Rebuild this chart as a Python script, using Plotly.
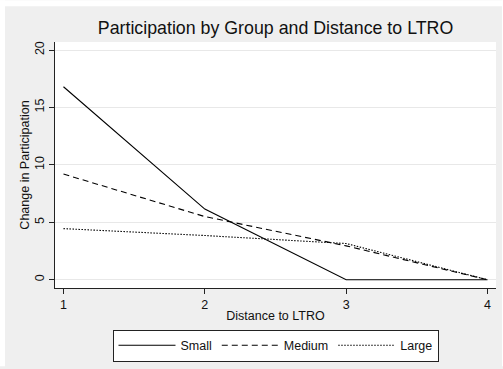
import plotly.graph_objects as go

distance = [1, 2, 3, 4]
small = [16.8, 6.15, 0.0, 0.0]
medium = [9.2, 5.5, 2.95, 0.0]
large = [4.45, 3.85, 3.15, 0.0]
y_ticks = [0, 5, 10, 15, 20]

W, H = 503, 369
L, R, T, B = 55, 7, 42, 79
pw, ph = W - L - R, H - T - B

def px_x(p):
    return (p - L) / pw

def px_y(p):
    return 1 - (p - T) / ph

font = "Liberation Sans, Arial, sans-serif"
fig = go.Figure()
for name, vals, dash in [("Small", small, "solid"), ("Medium", medium, "6px,4px"), ("Large", large, "1.5px,1.5px")]:
    fig.add_trace(go.Scatter(x=distance, y=vals, mode="lines", name=name,
                             line=dict(color="#000000", width=1.1, dash=dash)))

shapes = [
    dict(type="rect", xref="paper", yref="paper", x0=px_x(0), x1=px_x(W), y0=px_y(0), y1=px_y(6),
         fillcolor="white", line=dict(width=0), layer="below"),
    dict(type="rect", xref="paper", yref="paper", x0=px_x(0), x1=px_x(5), y0=px_y(0), y1=px_y(H),
         fillcolor="white", line=dict(width=0), layer="below"),
    dict(type="rect", xref="paper", yref="paper", x0=px_x(502), x1=px_x(W), y0=px_y(0), y1=px_y(H),
         fillcolor="white", line=dict(width=0), layer="below"),
]

fig.update_layout(
    width=W, height=H, margin=dict(l=L, r=R, t=T, b=B),
    paper_bgcolor="#efefef", plot_bgcolor="white",
    font=dict(family=font, color="#111111", size=12),
    title=dict(text="Participation by Group and Distance to LTRO", x=0.5, xref="paper",
               y=1 - 28 / H, yanchor="middle", font=dict(size=17.8, color="#111111")),
    shapes=shapes,
    xaxis=dict(range=[0.94, 4.06], tickvals=distance, ticks="outside", ticklen=5, tickcolor="#222",
               showgrid=False, zeroline=False, showline=True, linecolor="#222", linewidth=1,
               tickfont=dict(size=12.5), title=dict(text="Distance to LTRO", font=dict(size=12.5), standoff=0)),
    yaxis=dict(range=[-0.72, 20.7], tickvals=y_ticks, ticks="outside", ticklen=5, tickcolor="#222",
               tickangle=-90, showgrid=True, gridcolor="#e8e8e8", gridwidth=1, zeroline=False,
               showline=True, linecolor="#222", linewidth=1, tickfont=dict(size=12.5),
               title=dict(text="Change in Participation", font=dict(size=12.5), standoff=0)),
    legend=dict(orientation="h", x=0.5, xanchor="center", y=px_y(332), yanchor="top",
                bgcolor="white", bordercolor="#222", borderwidth=1, font=dict(size=12.5),
                itemwidth=57, traceorder="normal"),
    showlegend=True,
)
fig.write_html("out.html")
